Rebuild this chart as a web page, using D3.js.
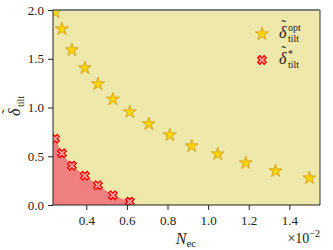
<!DOCTYPE html>
<html>
<head>
<meta charset="utf-8">
<script src="https://cdn.jsdelivr.net/npm/d3@7"></script>
<style>
body { margin: 0; background: white; }
text { font-family: "Liberation Serif", "DejaVu Serif", serif; }
</style>
</head>
<body>
<div id="chart"></div>
<script>
// star series (optimal tilt)
var optX = [0.246, 0.280, 0.329, 0.393, 0.457, 0.531, 0.614, 0.708, 0.811, 0.919, 1.047, 1.185, 1.332, 1.499];
var optY = [1.979, 1.805, 1.590, 1.405, 1.241, 1.085, 0.954, 0.831, 0.718, 0.605, 0.523, 0.431, 0.349, 0.277];
// cross series (critical tilt)
var critX = [0.246, 0.280, 0.329, 0.393, 0.457, 0.531, 0.614];
var critY = [0.680, 0.530, 0.403, 0.300, 0.202, 0.100, 0.034];
// boundary of the red region
var fillX = [0.236, 0.246, 0.280, 0.329, 0.393, 0.457, 0.531, 0.614, 0.630];
var fillY = [0.74, 0.680, 0.530, 0.403, 0.300, 0.202, 0.100, 0.034, 0.0];

var xTicks = [0.4, 0.6, 0.8, 1.0, 1.2, 1.4];
var yTicks = [0.0, 0.5, 1.0, 1.5, 2.0];

var width = 333, height = 250;
var padL = 53, padR = 320, padT = 10, padB = 205;

var svg = d3.select("#chart").append("svg")
	.attr("width", width)
	.attr("height", height);

var x = d3.scaleLinear().domain([0.236, 1.551]).range([padL, padR]);
var y = d3.scaleLinear().domain([0, 2.0]).range([padB, padT]);

svg.append("clipPath").attr("id", "clip")
	.append("rect")
	.attr("x", padL).attr("y", padT)
	.attr("width", padR - padL).attr("height", padB - padT);

var plot = svg.append("g").attr("clip-path", "url(#clip)");

// yellow background region
plot.append("rect")
	.attr("x", padL).attr("y", padT)
	.attr("width", padR - padL).attr("height", padB - padT)
	.attr("fill", "#eee8aa");

// red region under the critical curve
var pts = fillX.map(function (d, i) { return [d, fillY[i]]; });
pts.push([fillX[0], 0]);
plot.append("path")
	.attr("d", d3.line().x(function (d) { return x(d[0]); }).y(function (d) { return y(d[1]); })(pts) + "Z")
	.attr("fill", "#f08080");

var star = d3.symbol().type(d3.symbolStar).size(52);
var cross = d3.symbol().type(d3.symbolCross).size(46);

plot.selectAll(".star").data(optX).enter().append("path")
	.attr("d", star)
	.attr("transform", function (d, i) { return "translate(" + x(d) + "," + y(optY[i]) + ")"; })
	.attr("fill", "#ffd700")
	.attr("stroke", "#daa520")
	.attr("stroke-width", 1);

plot.selectAll(".cross").data(critX).enter().append("path")
	.attr("d", cross)
	.attr("transform", function (d, i) { return "translate(" + x(d) + "," + y(critY[i]) + ") rotate(45)"; })
	.attr("fill", "#f4a0a0")
	.attr("stroke", "red")
	.attr("stroke-width", 1.3);

// axes
var xAxis = svg.append("g")
	.attr("transform", "translate(0," + padB + ")")
	.call(d3.axisBottom(x).tickValues(xTicks).tickFormat(d3.format(".1f")).tickSize(5).tickSizeOuter(0));
var yAxis = svg.append("g")
	.attr("transform", "translate(" + padL + ",0)")
	.call(d3.axisLeft(y).tickValues(yTicks).tickFormat(d3.format(".1f")).tickSize(5).tickSizeOuter(0));
[xAxis, yAxis].forEach(function (a) {
	a.select(".domain").remove();
	a.selectAll("text").attr("font-family", "Liberation Serif").attr("font-size", 13).attr("fill", "#222");
	a.selectAll("line").attr("stroke", "#222");
});
xAxis.selectAll("text").attr("y", 20).attr("dy", 0);
yAxis.selectAll("text").attr("x", -9);

// spines
svg.append("line").attr("x1", padL).attr("x2", padL).attr("y1", padT).attr("y2", padB).attr("stroke", "#222").attr("stroke-width", 1);
svg.append("line").attr("x1", padR).attr("x2", padR).attr("y1", padT).attr("y2", padB).attr("stroke", "#333").attr("stroke-width", 1);
svg.append("line").attr("x1", padL).attr("x2", padR).attr("y1", padB).attr("y2", padB).attr("stroke", "#222").attr("stroke-width", 1);
svg.append("line").attr("x1", padL).attr("x2", padR).attr("y1", padT).attr("y2", padT).attr("stroke", "#808080").attr("stroke-width", 2);

// δ with tilde, sub/superscripts, drawn at (0,0) baseline inside g
function deltaTilde(g, sub, sup) {
	g.append("text").attr("x", 0).attr("y", 0).attr("font-size", 16).attr("font-style", "italic")
		.attr("fill", "#222").text("\u03b4");
	g.append("text").attr("x", 4.5).attr("y", -8.5).attr("text-anchor", "middle").attr("font-size", 14)
		.attr("fill", "#222").text("\u02dc");
	if (sup) {
		g.append("text").attr("x", 9).attr("y", -7).attr("font-size", 10).attr("fill", "#222").text(sup);
	}
	g.append("text").attr("x", 9).attr("y", 4).attr("font-size", 10).attr("fill", "#222").text(sub);
}

// labels
var xl = svg.append("text").attr("x", 186).attr("y", 244).attr("text-anchor", "middle")
	.attr("font-family", "Liberation Serif").attr("font-size", 16).attr("fill", "#222");
xl.append("tspan").attr("font-style", "italic").text("N");
xl.append("tspan").attr("font-size", 11).attr("dy", 3).text("ec");

var xm = svg.append("text").attr("x", 320).attr("y", 243).attr("text-anchor", "end")
	.attr("font-family", "Liberation Serif").attr("font-size", 14).attr("fill", "#222");
xm.append("tspan").text("\u00d710");
xm.append("tspan").attr("font-size", 10).attr("dy", -6).text("\u22122");

deltaTilde(svg.append("g").attr("transform", "translate(20,116) rotate(-90)"), "tilt");

// legend
svg.append("path").attr("d", star).attr("transform", "translate(262,34)")
	.attr("fill", "#ffd700").attr("stroke", "#daa520").attr("stroke-width", 1);
svg.append("path").attr("d", cross).attr("transform", "translate(262,60) rotate(45)")
	.attr("fill", "#f4a0a0").attr("stroke", "red").attr("stroke-width", 1.3);

deltaTilde(svg.append("g").attr("transform", "translate(279,38)"), "tilt", "opt");
deltaTilde(svg.append("g").attr("transform", "translate(279,64)"), "tilt", "*");
</script>
</body>
</html>
